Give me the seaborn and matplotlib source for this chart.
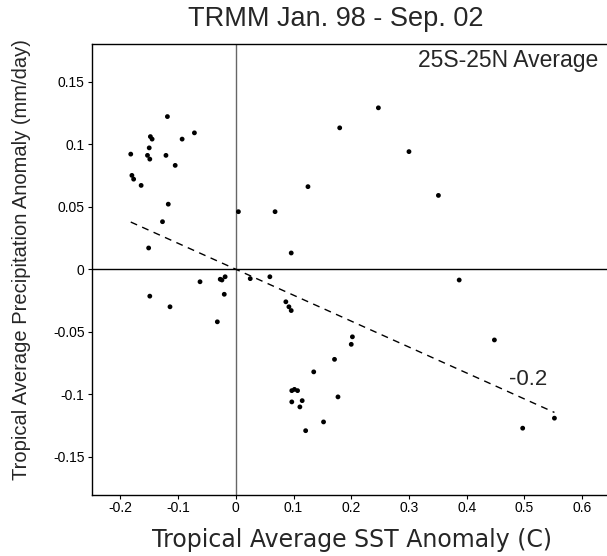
import numpy as np
import pandas as pd
import seaborn as sns
import matplotlib
matplotlib.use("Agg")
import matplotlib.pyplot as plt

# tropical averages, one dot per month (Jan 98 - Sep 02)
sst_anom = [-0.1185, -0.0717, -0.148, -0.145, -0.093, -0.150, -0.182, -0.153, -0.121,
            -0.149, -0.105, -0.180, -0.177, -0.164, -0.117, -0.127, -0.151, 0.0045,
            0.125, 0.068, 0.096, -0.062, -0.027, -0.024, -0.0185, 0.025, 0.059,
            -0.020, 0.0867, 0.092, 0.096, -0.032, 0.202,
            0.200, 0.171, 0.135, 0.097, 0.1016, 0.107, 0.097, 0.115, 0.111,
            0.177, 0.152, 0.121,
            0.247, 0.180, 0.300, 0.351, 0.387, 0.448, 0.497, 0.552,
            -0.149, -0.114]
precip_anom = [0.122, 0.109, 0.106, 0.104, 0.104, 0.097, 0.092, 0.091, 0.091,
               0.088, 0.083, 0.075, 0.072, 0.067, 0.052, 0.038, 0.017, 0.046,
               0.066, 0.046, 0.013, -0.010, -0.008, -0.0086, -0.006, -0.0075, -0.006,
               -0.020, -0.026, -0.030, -0.033, -0.042, -0.054,
               -0.060, -0.072, -0.082, -0.097, -0.096, -0.097, -0.106, -0.105, -0.110,
               -0.102, -0.122, -0.129,
               0.129, 0.113, 0.094, 0.059, -0.0086, -0.0565, -0.127, -0.119,
               -0.0215, -0.030]
slope_label = "-0.2"

xticks = [-0.2, -0.1, 0, 0.1, 0.2, 0.3, 0.4, 0.5, 0.6]
xticklabels = ["-0.2", "-0.1", "0", "0.1", "0.2", "0.3", "0.4", "0.5", "0.6"]
yticks = [-0.15, -0.1, -0.05, 0, 0.05, 0.1, 0.15]
yticklabels = ["-0.15", "-0.1", "-0.05", "0", "0.05", "0.1", "0.15"]

df = pd.DataFrame({"sst": sst_anom, "precip": precip_anom})

# least squares slope through the origin, drawn over the data range
x = df["sst"].to_numpy()
y = df["precip"].to_numpy()
slope = (x * y).sum() / (x * x).sum()
fit = pd.DataFrame({"sst": [x.min(), x.max()]})
fit["precip"] = slope * fit["sst"]

sns.set_theme(style="ticks")
plt.rcParams["font.family"] = ["Liberation Sans", "DejaVu Sans"]

fig = plt.figure(figsize=(6.07, 5.56), dpi=100)
ax = fig.add_axes([91.5 / 607, 1 - 494.5 / 556, (611 - 91.5) / 607, (494.5 - 44) / 556])

ax.axvline(0, color="#666666", lw=1.0, zorder=1)
ax.axhline(0, color="black", lw=1.0, zorder=1)
sns.lineplot(data=fit, x="sst", y="precip", ax=ax, color="black", lw=1.0,
             linestyle=(0, (5, 4)), zorder=2)
sns.scatterplot(data=df, x="sst", y="precip", ax=ax, color="black", s=12,
                edgecolor="none", zorder=3)

ax.set_xlim(-0.25, 0.65)
ax.set_ylim(-0.18, 0.18)
ax.set_xticks(xticks)
ax.set_xticklabels(xticklabels)
ax.set_yticks(yticks)
ax.set_yticklabels(yticklabels)
ax.tick_params(axis="both", labelsize=10, length=3, width=0.8, color="black",
               labelcolor="black", pad=2)
for side in ["left", "bottom", "top"]:
    ax.spines[side].set_color("black")
    ax.spines[side].set_linewidth(1.0)
ax.spines["right"].set_visible(False)

ax.set_xlabel("")
ax.set_ylabel("")
fig.text(352 / 607, 1 - 540 / 556, "Tropical Average SST Anomaly (C)", fontsize=17,
         ha="center", va="center", family=["DejaVu Sans"])
fig.text(22 / 607, 1 - 260 / 556, "Tropical Average Precipitation Anomaly (mm/day)",
         fontsize=14.5, ha="center", va="center", rotation=90)
fig.text(336 / 607, 1 - 19 / 556, "TRMM Jan. 98 - Sep. 02", fontsize=19.5,
         ha="center", va="center")
fig.text(598 / 607, 1 - 60 / 556, "25S-25N Average", fontsize=16.5,
         ha="right", va="center")
ax.text(0.507, -0.088, slope_label, fontsize=16, ha="center", va="center")

fig.savefig("out.png", dpi=100)
